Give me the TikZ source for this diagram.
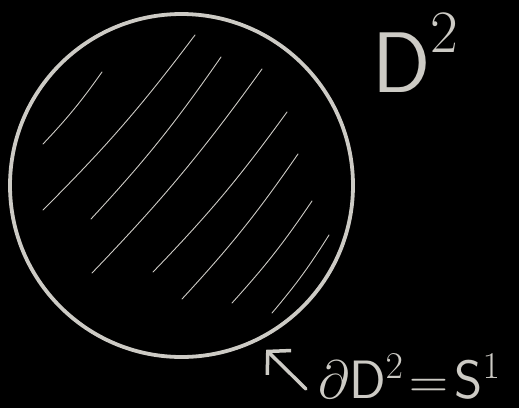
\RequirePackage{fix-cm}
\documentclass[tikz,border=0pt]{standalone}
\usepackage{amsmath}
\usetikzlibrary{arrows.meta,positioning}
\definecolor{chalk}{RGB}{205,203,197}
\tikzset{
    disk/.style={circle, draw=chalk, line width=3.8pt, minimum size=343pt, inner sep=0pt},
    hatch/.style={chalk, line width=0.9pt, line cap=round},
    chalktext/.style={text=chalk, inner sep=0pt},
    pointer/.style={draw=chalk, line width=3.5pt, line cap=round,
        -{Straight Barb[length=16pt, width=34pt, line width=3.5pt]}}
}
\begin{document}
\begin{tikzpicture}[x=1pt, y=-1pt]
                    \fill[black] (0,0) rectangle (519,408);
                    \useasboundingbox (0,0) rectangle (519,408);
                    \node[disk] (disk) at (181.5,185.5) {};
                    \foreach \ax/\ay/\bx/\by in {43/144/102/72, 43/210/195/35, 91/219/221/57,
                        92/273/262/69, 153/272/287/112, 182/299/298/154, 232/303/312/201, 272/313/329/235}{
                        \draw[hatch] (\ax,\ay) to[bend right=4] (\bx,\by);
                    }
                    \node[chalktext, anchor=base west] (disklabel) at (372,92)
                        {\fontsize{86}{90}\selectfont $\mathsf{D}^{\raisebox{8pt}{$\scriptstyle 2$}}$};
                    \node[chalktext, anchor=base west] (boundarylabel) at (318,398)
                        {\fontsize{54}{60}\selectfont $\partial\mathsf{D}^{2}\mkern2mu{=}\mkern2mu\mathsf{S}^{1}$};
                    \coordinate (tail) at (306,389);
                    \draw[pointer, shorten >=12pt] (tail) -- (disk.-64);
                \end{tikzpicture}
\end{document}
